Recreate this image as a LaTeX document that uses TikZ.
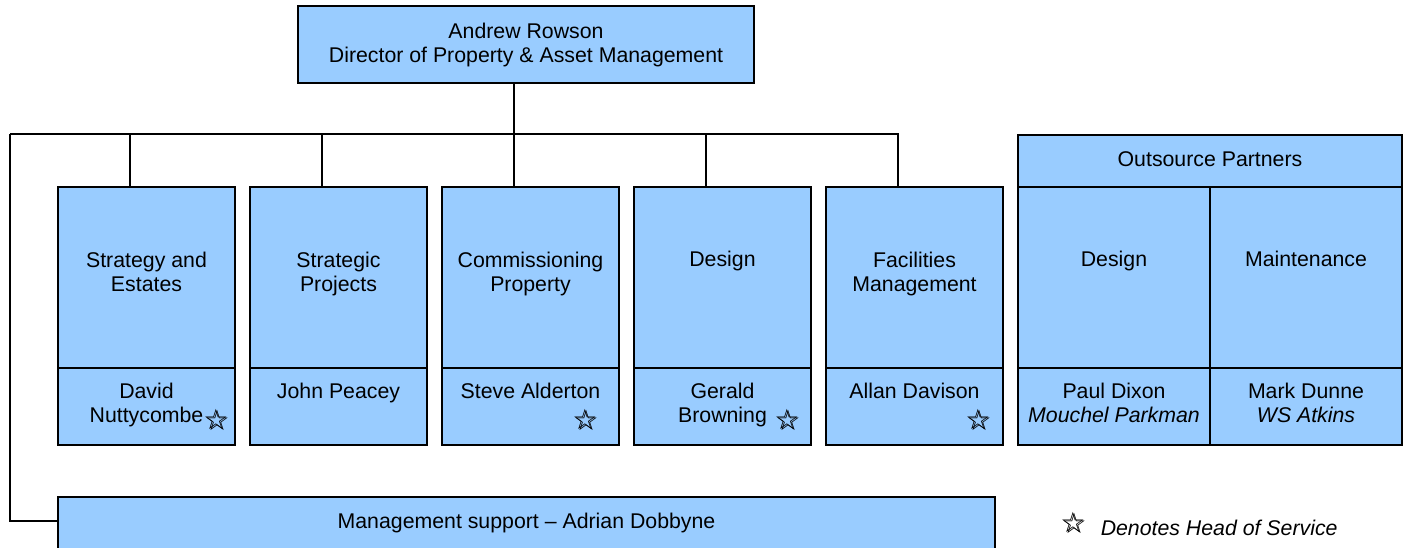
\documentclass[tikz,border=0pt]{standalone}
\usepackage{fontspec}
\setmainfont{Liberation Sans}
\newfontfamily\starfont{DejaVu Sans}
\usetikzlibrary{positioning}
\definecolor{orgblue}{RGB}{153,204,255}
\newcommand{\hosmark}{\rlap{\kern1.2pt\raisebox{-1.2pt}{☆}}☆}

\begin{document}
\begin{tikzpicture}[x=1pt,y=-1pt,line width=1.5pt,
		orgbox/.style={draw, fill=orgblue, inner sep=0pt, outer sep=0pt, minimum width=177pt},
		deptbox/.style={orgbox, minimum height=181pt},
		namebox/.style={orgbox, minimum height=77pt},
		txtlbl/.style={anchor=base, align=center, inner sep=0pt, font=\fontsize{21.3}{24}\selectfont},
		txtlbltwo/.style={txtlbl, yshift=-24pt},
		hosstar/.style={inner sep=0pt, font=\starfont\fontsize{28}{28}\selectfont}]
	\useasboundingbox (0,0) rectangle (1409,547);
	\clip (0,0) rectangle (1409,547);
	\node[orgbox, minimum width=456pt, minimum height=77pt] (dir) at (526,44.5) {};
	\node[deptbox] (sse) at (146.5,277.5) {};
	\node[deptbox, right=15pt of sse] (spj) {};
	\node[deptbox, right=15pt of spj] (cpr) {};
	\node[deptbox, right=15pt of cpr] (dsg) {};
	\node[deptbox, right=15pt of dsg] (fmg) {};
	\node[namebox, below=0pt of sse] (sseN) {};
	\node[namebox, below=0pt of spj] (spjN) {};
	\node[namebox, below=0pt of cpr] (cprN) {};
	\node[namebox, below=0pt of dsg] (dsgN) {};
	\node[namebox, below=0pt of fmg] (fmgN) {};
	\node[orgbox, minimum width=384pt, minimum height=52pt] (ops) at (1210,161) {};
	\node[deptbox, minimum width=192pt, anchor=north west] (opd) at (ops.south west) {};
	\node[deptbox, minimum width=192pt, right=0pt of opd] (opm) {};
	\node[namebox, minimum width=192pt, below=0pt of opd] (opdN) {};
	\node[namebox, minimum width=192pt, below=0pt of opm] (opmN) {};
	\node[orgbox, minimum width=937pt, minimum height=64pt, anchor=north west] (mgmt) at (58,497) {};

	\coordinate (busL) at (10,134);
	\coordinate (mgmtin) at (58,521);
	\draw ([xshift=-12pt]dir.south) -- ++(0,51);
	\draw (busL) -| ([xshift=-16.5pt]fmg.north);
	\draw ([xshift=-16.5pt]sse.north) |- (busL);
	\draw ([xshift=-16.5pt]spj.north) |- (busL);
	\draw ([xshift=-16.5pt]cpr.north) |- (busL);
	\draw ([xshift=-16.5pt]dsg.north) |- (busL);
	\draw (busL) |- (mgmtin);

	\node[txtlbltwo] at ([yshift=-32pt]dir.north) {Andrew Rowson\\Director of Property \& Asset Management};
	\node[txtlbltwo] at ([yshift=-80pt]sse.north) {Strategy and\\Estates};
	\node[txtlbltwo] at ([yshift=-80pt]spj.north) {Strategic\\Projects};
	\node[txtlbltwo] at ([yshift=-80pt]cpr.north) {Commissioning\\Property};
	\node[txtlbl] at ([yshift=-79pt]dsg.north) {Design};
	\node[txtlbltwo] at ([yshift=-80pt]fmg.north) {Facilities\\Management};
	\node[txtlbltwo] at ([yshift=-30pt]sseN.north) {David\\Nuttycombe};
	\node[txtlbl] at ([yshift=-30pt]spjN.north) {John Peacey};
	\node[txtlbl] at ([yshift=-30pt]cprN.north) {Steve Alderton};
	\node[txtlbltwo] at ([yshift=-30pt]dsgN.north) {Gerald\\Browning};
	\node[txtlbl] at ([yshift=-30pt]fmgN.north) {Allan Davison};
	\node[txtlbl] at ([yshift=-31pt]ops.north) {Outsource Partners};
	\node[txtlbl] at ([yshift=-79pt]opd.north) {Design};
	\node[txtlbl] at ([yshift=-79pt]opm.north) {Maintenance};
	\node[txtlbltwo] at ([yshift=-30pt]opdN.north) {Paul Dixon\\\itshape Mouchel Parkman};
	\node[txtlbltwo] at ([yshift=-30pt]opmN.north) {Mark Dunne\\\itshape WS Atkins};
	\node[txtlbl] at ([yshift=-31pt]mgmt.north) {Management support -- Adrian Dobbyne};

	\node[hosstar] at ([xshift=-19pt,yshift=-52pt]sseN.north east) {\hosmark};
	\node[hosstar] at ([xshift=-34pt,yshift=-52pt]cprN.north east) {\hosmark};
	\node[hosstar] at ([xshift=-24pt,yshift=-52pt]dsgN.north east) {\hosmark};
	\node[hosstar] at ([xshift=-25pt,yshift=-52pt]fmgN.north east) {\hosmark};
	\node[hosstar] (key) at (1073,523) {\hosmark};
	\node[txtlbl, anchor=base west, font=\fontsize{21.3}{24}\selectfont\itshape] at (1100,535) {Denotes Head of Service};
\end{tikzpicture}
\end{document}
